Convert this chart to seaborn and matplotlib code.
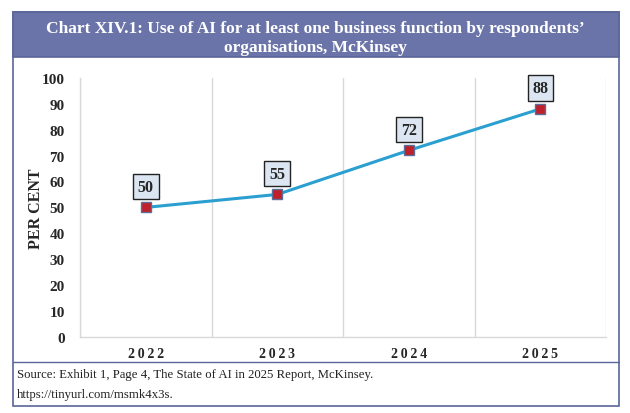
import matplotlib
matplotlib.use("Agg")
import matplotlib.pyplot as plt
import matplotlib.patches as mpatches
import seaborn as sns
import pandas as pd

years = ["2022", "2023", "2024", "2025"]
per_cent = [50, 55, 72, 88]
y_ticks = list(range(0, 101, 10))

titulo = "Chart XIV.1: Use of AI for at least one business function by respondents’\norganisations, McKinsey"
fuente_1 = "Source: Exhibit 1, Page 4, The State of AI in 2025 Report, McKinsey."
fuente_2 = "https://tinyurl.com/msmk4x3s."

sns.set_theme(style="white")
plt.rcParams['font.family'] = ['Liberation Serif', 'DejaVu Serif']

df = pd.DataFrame({"year": years, "value": per_cent})

fig = plt.figure(figsize=(6.3, 4.14), dpi=100)

# marco exterior y banda del titulo
borde = "#5A6699"
fig.patches.append(mpatches.Rectangle((0.0206, 0.0169), 0.962, 0.9517, transform=fig.transFigure,
                                      facecolor="white", edgecolor=borde, linewidth=1.2, zorder=0))
fig.patches.append(mpatches.Rectangle((0.0206, 0.860), 0.962, 0.1087, transform=fig.transFigure,
                                      facecolor="#6B74A8", edgecolor=borde, linewidth=1.2, zorder=1))
fig.lines.append(plt.Line2D([0.0206, 0.9826], [0.1232, 0.1232], transform=fig.transFigure,
                            color=borde, linewidth=1.0, zorder=1))
fig.text(0.5, 0.908, titulo, ha="center", va="center", color="white",
         fontsize=12.5, fontweight="bold", linespacing=1.25, zorder=3)
fig.text(0.027, 0.0942, fuente_1, ha="left", va="center", fontsize=9.2, color="#222222")
fig.text(0.027, 0.0459, fuente_2, ha="left", va="center", fontsize=9.2, color="#222222")

ax = fig.add_axes([0.127, 0.1836, 0.835, 0.626])
ax.set_zorder(2)
ax.set_facecolor("none")
sns.lineplot(data=df, x="year", y="value", ax=ax, color="#2A9FD0", linewidth=2.2,
             marker="s", markersize=7, markerfacecolor="#C0202A",
             markeredgecolor="#5A6E99", markeredgewidth=1.0, sort=False)

for i, v in enumerate(per_cent):
    ax.annotate(str(v), (i, v), xytext=(0, 15), textcoords="offset points",
                ha="center", va="center", fontsize=11.5, fontweight="bold",
                bbox=dict(boxstyle="square,pad=0.3", facecolor="#DCE6F2",
                          edgecolor="#222222", linewidth=1.0))

ax.set_xlim(-0.5, len(years) - 0.5)
ax.set_ylim(0, 100)
ax.set_yticks(y_ticks)
ax.set_yticklabels([str(t) for t in y_ticks], fontsize=11, fontweight="bold")
ax.set_xticks(range(len(years)))
ax.set_xticklabels(["\u2009".join(y) for y in years], fontsize=10, fontweight="bold")
ax.set_xticks([i + 0.5 for i in range(-1, len(years))], minor=True)
ax.grid(which="minor", axis="x", color="#D9D9D9", linewidth=1.0)
ax.grid(which="major", axis="both", visible=False)
ax.tick_params(axis="both", which="both", length=0)
ax.tick_params(axis="y", pad=11)
ax.tick_params(axis="x", pad=7)
ax.set_xlabel("")
ax.set_ylabel("PER CENT", fontsize=11.5, fontweight="bold")
ax.yaxis.set_label_coords(-0.068, 0.5)

for lado in ["top", "right"]:
    ax.spines[lado].set_visible(False)
for lado in ["left", "bottom"]:
    ax.spines[lado].set_color("#D9D9D9")
    ax.spines[lado].set_linewidth(1.0)

fig.savefig("out.png", dpi=100)
